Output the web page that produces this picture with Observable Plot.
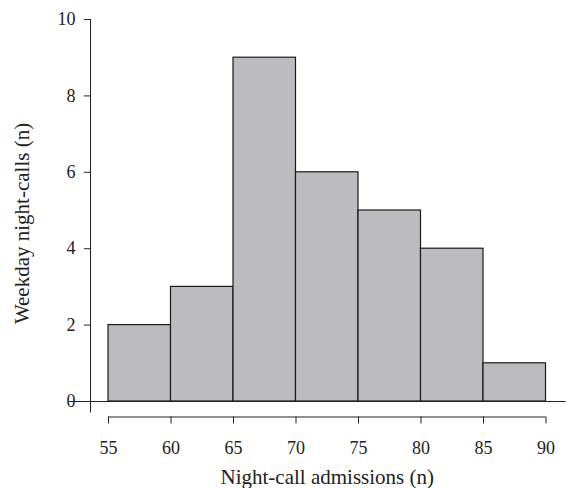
<!DOCTYPE html>
<html><head><meta charset="utf-8">
<script src="https://cdn.jsdelivr.net/npm/d3@7"></script>
<script src="https://cdn.jsdelivr.net/npm/@observablehq/plot@0.6"></script>
<style>body{margin:0;background:#fff}</style>
</head><body><div id="chart"></div>
<script>
const binStarts = [55, 60, 65, 70, 75, 80, 85];
const binEnds = [60, 65, 70, 75, 80, 85, 90];
const counts = [2, 3, 9, 6, 5, 4, 1];
const xTicks = [55, 60, 65, 70, 75, 80, 85, 90];
const yTicks = [0, 2, 4, 6, 8, 10];
const xLabel = "Night-call admissions (n)";
const yLabel = "Weekday night-calls (n)";
const data = counts.map((c, i) => ({x1: binStarts[i], x2: binEnds[i], y: c}));
const yAxisAt = 53.56; // x-value where the detached y axis sits
const yTickLen = 0.48;  // tick length in x units

const plot = Plot.plot({
  width: 567, height: 488,
  marginLeft: 108, marginRight: 21.5, marginTop: 19, marginBottom: 87,
  x: {type: "linear", domain: [55, 90], axis: null},
  y: {type: "linear", domain: [0, 10], axis: null},
  style: {fontFamily: "Liberation Serif", fontSize: "18px", color: "#222", background: "#fff"},
  marks: [
    Plot.rectY(data, {x1: "x1", x2: "x2", y: "y", fill: "#bcbcc0", stroke: "#1a1a1a", strokeWidth: 1.2}),
    Plot.ruleY([0], {x1: 51.9, x2: 91.6, stroke: "#222"}),
    Plot.ruleX([yAxisAt], {y1: -0.3, y2: 10, stroke: "#222"}),
    Plot.ruleY(yTicks, {x1: yAxisAt - yTickLen, x2: yAxisAt, stroke: "#222"}),
    Plot.text(yTicks, {x: yAxisAt, y: d => d, text: d => String(d), textAnchor: "end", dx: -15, fontSize: 18, fill: "#222"}),
    Plot.ruleY([0], {x1: 55, x2: 90, dy: 15.5, stroke: "#222"}),
    Plot.axisX({ticks: xTicks, tickSize: 7, tickPadding: 17, dy: 15.5, label: null, fontSize: 18}),
    Plot.text([xLabel], {frameAnchor: "bottom", lineAnchor: "middle", textAnchor: "middle", dy: 76, fontSize: 21, fill: "#222"}),
    Plot.text([yLabel], {frameAnchor: "left", lineAnchor: "middle", textAnchor: "middle", rotate: -90, dx: -86, dy: 13, fontSize: 21, fill: "#222"})
  ]
});
document.getElementById("chart").appendChild(plot);
</script>
</body></html>
